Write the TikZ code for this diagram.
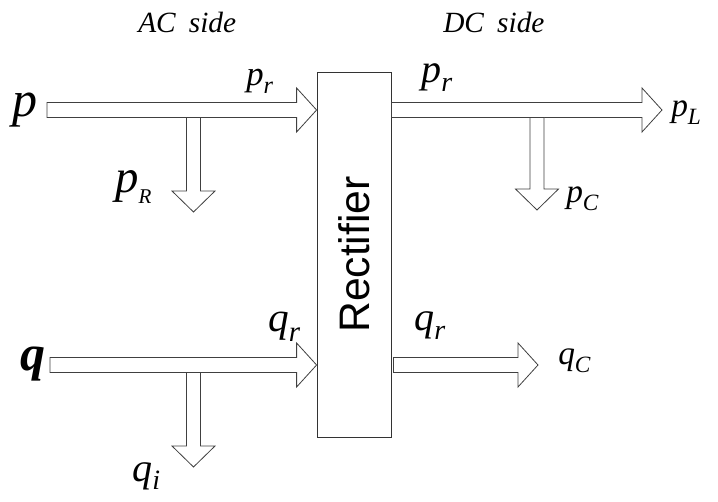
\documentclass[tikz,border=0pt]{standalone}
\usepackage{fontspec}
\setmainfont{Liberation Serif}
\setsansfont{Liberation Sans}
\usetikzlibrary{calc}
\newcommand{\lbl}[3][.7]{\textit{#2}\raisebox{-.22em}{\scalebox{#1}{\textit{#3}}}}
\newcommand{\fsize}[1]{\fontsize{#1}{#1}\selectfont}
\tikzset{
  fat/.style={draw=black!75, fill=white, line width=0.6pt, line join=miter},
  box/.style={draw=black!80, line width=0.6pt, inner sep=0pt},
  lab/.style={inner sep=0pt, anchor=base west},
  side/.style={lab, font=\fsize{22pt}\itshape},
}
% fat block arrows: shaft half width 7.5, head half width 22, head length 20
\newcommand{\fatright}[2]{\draw[fat] ($(#1)+(0,-7.5)$) -- ($(#2)+(-20,-7.5)$) -- ($(#2)+(-20,-22)$)
  -- (#2) -- ($(#2)+(-20,22)$) -- ($(#2)+(-20,7.5)$) -- ($(#1)+(0,7.5)$) -- cycle;}
\newcommand{\fatdown}[2]{\draw[fat] ($(#1)+(-7,0)$) -- ($(#2)+(-7,-21)$) -- ($(#2)+(-21.5,-21)$)
  -- (#2) -- ($(#2)+(21.5,-21)$) -- ($(#2)+(7,-21)$) -- ($(#1)+(7,0)$) -- cycle;}
\begin{document}
\begin{tikzpicture}[x=0.75pt, y=-0.75pt]
\useasboundingbox (0,0) rectangle (718,502);

% ── rectifier ───────────────────────────────────────────────
\node[box, rotate=90, minimum width=273.75pt, minimum height=55.5pt,
      font=\sffamily\fsize{32pt}] (rect) at (354,254.5) {Rectifier};

% ── arrow ends ──────────────────────────────────────────────
\coordinate (pin) at (47,110);
\coordinate (pout) at (662,110);
\coordinate (qin) at (50,365);
\coordinate (qout) at (538,365);
\coordinate (rtap) at (193.5,117.5);
\coordinate (rtip) at (193.5,212);
\coordinate (ctap) at (537,117.5);
\coordinate (ctip) at (537,210);
\coordinate (itap) at (193.5,372.5);
\coordinate (itip) at (193.5,467);
\coordinate (pfrom) at (rect.south |- pin);
\coordinate (qfrom) at ($(rect.south |- qin)+(2,0)$);

% ── active power ────────────────────────────────────────────
\fatright{pin}{rect.north |- pin}
\fatright{pfrom}{pout}
\fatdown{rtap}{rtip}
\fatdown{ctap}{ctip}

% ── reactive power ──────────────────────────────────────────
\fatright{qin}{rect.north |- qin}
\fatright{qfrom}{qout}
\fatdown{itap}{itip}

% ── labels ──────────────────────────────────────────────────
\node[side] (ac) at (138,33) {AC\hspace{.45em}side};
\node[side] (dc) at (443,33) {DC\hspace{.45em}side};
\node[lab, font=\fsize{37.5pt}] (p) at (12,117) {\textit{p}};
\node[lab, font=\fsize{37.5pt}\bfseries] (q) at (20,371) {\textit{q}};
\node[lab, font=\fsize{26pt}] (prl) at (246,86) {\lbl{p}{r}};
\node[lab, font=\fsize{30pt}] (prr) at (421,83) {\lbl{p}{r}};
\node[lab, font=\fsize{35pt}] (pR) at (115,193) {\lbl[.45]{p}{R}};
\node[lab, font=\fsize{25pt}] (pL) at (671,117) {\lbl{p}{L}};
\node[lab, font=\fsize{25pt}] (pC) at (566,203) {\lbl{p}{C}};
\node[lab, font=\fsize{31pt}] (qrl) at (268,332) {\lbl{q}{r}};
\node[lab, font=\fsize{30pt}] (qi) at (132,481) {\lbl{q}{i}};
\node[lab, font=\fsize{30pt}] (qrr) at (414,331) {\lbl{q}{r}};
\node[lab, font=\fsize{25pt}] (qC) at (558,365) {\lbl{q}{C}};

\end{tikzpicture}
\end{document}
